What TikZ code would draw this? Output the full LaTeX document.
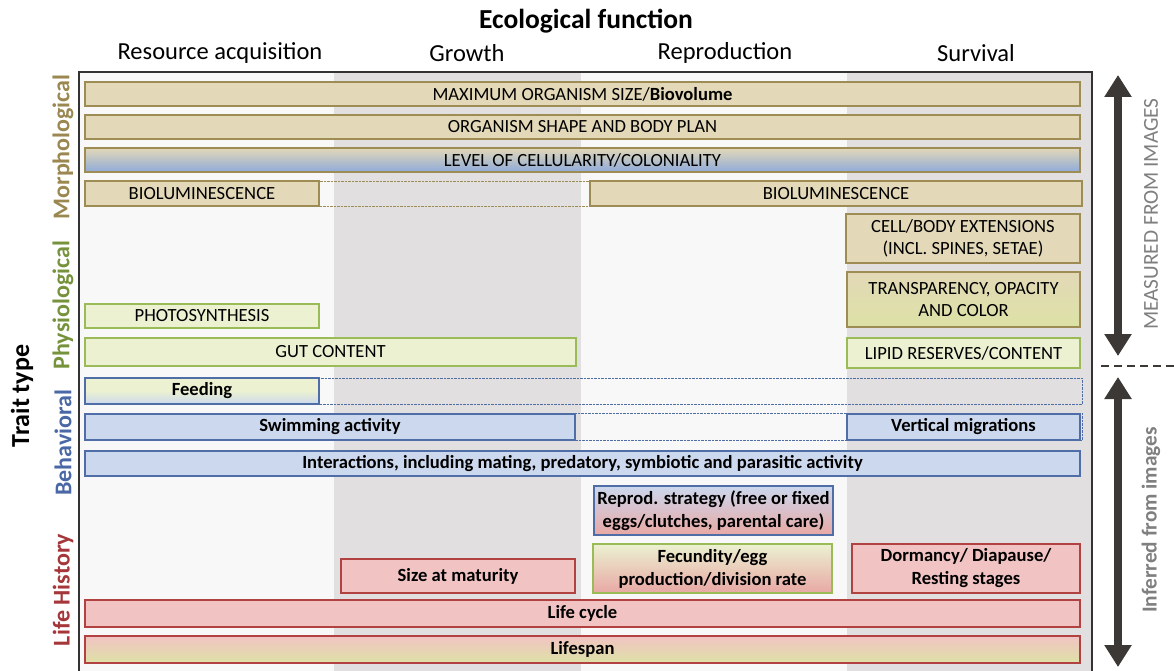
\documentclass[tikz,border=0pt]{standalone}
\usepackage{fontspec}
\setmainfont{Carlito}
\usetikzlibrary{arrows.meta}
\definecolor{tanF}{HTML}{E3D8B7}
\definecolor{tanD}{HTML}{9E8C55}
\definecolor{grnF}{HTML}{EBF1D1}
\definecolor{grnD}{HTML}{9BBB59}
\definecolor{grnB}{HTML}{DCE2A6}
\definecolor{bluF}{HTML}{CCD8EE}
\definecolor{bluB}{HTML}{8FAADB}
\definecolor{bluD}{HTML}{4F6EA8}
\definecolor{redF}{HTML}{F2C3C3}
\definecolor{redB}{HTML}{E8A8A4}
\definecolor{redD}{HTML}{B24242}
\definecolor{colG}{HTML}{E1DFE0}
\definecolor{colL}{HTML}{F8F8F8}
\definecolor{arrC}{HTML}{3C3836}
\definecolor{morC}{HTML}{9B8851}
\definecolor{phyC}{HTML}{76933C}
\definecolor{behC}{HTML}{4A68A5}
\definecolor{lifC}{HTML}{A5373A}
\definecolor{sideC}{HTML}{7F7F7F}
\begin{document}
\begin{tikzpicture}[x=1pt,y=-1pt,
  bx/.style={rectangle, inner sep=0pt, line width=1.1pt, font=\fontsize{18.6}{22.5}\selectfont, align=center, text=black},
  bbx/.style={bx, font=\fontsize{18.6}{23}\selectfont\bfseries},
  tanbox/.style={fill=tanF, draw=tanD},
  grnbox/.style={fill=grnF, draw=grnD},
  blubox/.style={fill=bluF, draw=bluD},
  redbox/.style={fill=redF, draw=redD},
  dashrow/.style={rectangle, inner sep=0pt, line width=0.8pt, dash pattern=on 2.5pt off 1pt},
  colhead/.style={font=\fontsize{24.5}{28}\selectfont},
  sidelab/.style={rotate=90, font=\fontsize{24}{28}\selectfont\bfseries},
  bigarrow/.style={arrC, line width=8pt, {Triangle[width=26pt,length=22pt]}-{Triangle[width=26pt,length=22pt]}},
  sidetext/.style={rotate=90, text=sideC, font=\fontsize{21.3}{24}\selectfont}
]
\useasboundingbox (0,0) rectangle (1174,671);
\fill[white] (0,0) rectangle (1174,671);
% column backgrounds
\fill[colL] (79,72) rectangle (334,671);
\fill[colG] (334,72) rectangle (581,671);
\fill[colL] (581,72) rectangle (847,671);
\fill[colG] (847,72) rectangle (1092,671);
\draw[line width=1.2pt, black!80] (79,675) -- (79,72) -- (1092,72) -- (1092,675);

% headings
\node[font=\fontsize{27.5}{32}\selectfont\bfseries] (title) at (586,21) {Ecological function};
\node[colhead] (h1) at (220,53) {Resource acquisition};
\node[colhead] (h2) at (467,53) {Growth};
\node[colhead] (h3) at (725,53) {Reproduction};
\node[colhead] (h4) at (976,53) {Survival};

% left labels
\node[sidelab, font=\fontsize{26}{30}\selectfont\bfseries] (trait) at (22,396) {Trait type};
\node[sidelab, text=morC] (morph) at (63,147) {Morphological};
\node[sidelab, text=phyC] (phys) at (63,305) {Physiological};
\node[sidelab, text=behC] (behav) at (63,443) {Behavioral};
\node[sidelab, text=lifC] (lifeh) at (63,590) {Life History};

% morphological
\node[bx, tanbox, minimum width=995pt, minimum height=24pt] (maxsize) at (582.5,94) {MAXIMUM ORGANISM SIZE/\textbf{Biovolume}};
\node[bx, tanbox, minimum width=995pt, minimum height=24pt] (shape) at (582.5,127) {ORGANISM SHAPE AND BODY PLAN};
\node[bx, draw=tanD, top color=tanF, middle color=tanF!75!bluB, bottom color=bluB, minimum width=995pt, minimum height=24pt] (cell) at (582.5,160) {LEVEL OF CELLULARITY/COLONIALITY};
\node[dashrow, draw=tanD, minimum width=997pt, minimum height=25pt] (biorow) at (583.5,193.5) {};
\node[bx, tanbox, minimum width=234pt, minimum height=25pt] (bio1) at (202,193.5) {BIOLUMINESCENCE};
\node[bx, tanbox, minimum width=492pt, minimum height=25pt] (bio2) at (836,193.5) {BIOLUMINESCENCE};
\node[bx, tanbox, minimum width=234pt, minimum height=49pt] (ext) at (963,238.5) {CELL/BODY EXTENSIONS\\(INCL. SPINES, SETAE)};
\node[bx, draw=tanD, top color=tanF, bottom color=grnB, minimum width=233pt, minimum height=55pt] (transp) at (963.5,299.5) {TRANSPARENCY, OPACITY\\AND COLOR};

% physiological
\node[bx, grnbox, minimum width=234pt, minimum height=24pt] (photo) at (202,316) {PHOTOSYNTHESIS};
\node[bx, grnbox, minimum width=491pt, minimum height=28pt] (gut) at (330.5,352) {GUT CONTENT};
\node[bx, grnbox, minimum width=233pt, minimum height=30pt] (lipid) at (963.5,353) {LIPID RESERVES/CONTENT};

% behavioral
\node[dashrow, draw=bluD, minimum width=997pt, minimum height=26pt] (feedrow) at (583.5,391) {};
\node[bbx, draw=bluD, top color=grnF, bottom color=bluF, middle color=grnF, minimum width=234pt, minimum height=26pt] (feed) at (202,391) {Feeding};
\node[dashrow, draw=bluD, minimum width=997pt, minimum height=27pt] (swimrow) at (583.5,426.5) {};
\node[bbx, blubox, minimum width=490pt, minimum height=26pt] (swim) at (330,427) {Swimming activity};
\node[bbx, blubox, minimum width=233pt, minimum height=26pt] (vert) at (963.5,427) {Vertical migrations};
\node[bbx, blubox, minimum width=995pt, minimum height=25pt] (inter) at (582.5,463.5) {Interactions, including mating, predatory, symbiotic and parasitic activity};

% life history
\node[bbx, draw=bluD, top color=bluF, bottom color=redB, minimum width=239pt, minimum height=49pt] (reprod) at (713.5,510.5) {Reprod. strategy (free or fixed\\eggs/clutches, parental care)};
\node[bbx, redbox, minimum width=234pt, minimum height=34pt] (sizemat) at (458,576) {Size at maturity};
\node[bbx, draw=grnD, top color=grnF, bottom color=redB, minimum width=239pt, minimum height=49pt] (fecund) at (712.5,568.5) {Fecundity/egg\\production/division rate};
\node[bbx, redbox, minimum width=228pt, minimum height=49pt] (dorm) at (966,568.5) {Dormancy/ Diapause/\\Resting stages};
\node[bbx, redbox, minimum width=995pt, minimum height=27pt] (cycle) at (582.5,613.5) {Life cycle};
\node[bbx, draw=redD, top color=redF, bottom color=grnB, minimum width=995pt, minimum height=27pt] (span) at (582.5,649.5) {Lifespan};

% right side
\coordinate (mTop) at (1118,75);
\coordinate (mBot) at (1118,356);
\coordinate (iTop) at (1118,377);
\coordinate (iBot) at (1118,667);
\coordinate (dL) at (1101,366);
\coordinate (dR) at (1174,366);
\draw[bigarrow] (mTop) -- (mBot);
\draw[bigarrow] (iTop) -- (iBot);
\draw[arrC, line width=2.2pt, dash pattern=on 8pt off 5pt] (dL) -- (dR);
\node[sidetext] (meas) at (1151,214) {MEASURED FROM IMAGES};
\node[sidetext, font=\fontsize{21.3}{24}\selectfont\bfseries] (infer) at (1151,520) {Inferred from images};
\end{tikzpicture}
\end{document}
